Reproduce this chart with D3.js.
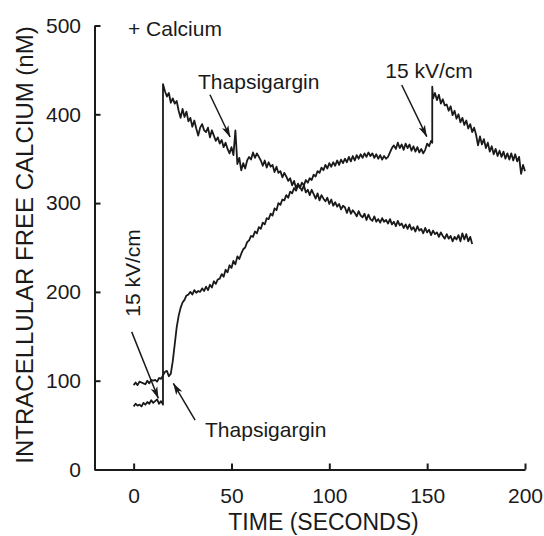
<!DOCTYPE html>
<html><head><meta charset="utf-8">
<script src="https://cdn.jsdelivr.net/npm/d3@7"></script>
<style>body{margin:0;background:#fff} svg{display:block}</style>
</head><body>
<svg id="c" width="544" height="536"></svg>
<script>
// Trace with 15 kV/cm pulse at ~15 s  [time (s), [Ca2+] (nM)]
const traceA = [[0,71],[1,74],[2,72],[3,73],[4,71],[5,75],[6,73],[7,76],[8,74],[9,78],[10,75],[11,77],[12,79],[13,74],[14,77],[15,73],[15,434],
[16,426],[17,420],[18,424],[19,413],[20,418],[21,412],[22,415],[23,404],[24,396],[25,406],[26,397],[27,403],[28,392],[29,396],[30,386],[31,393],[32,384],[33,376],[34,385],[35,389],[36,382],[37,380],[38,385],[39,374],[40,382],[41,376],[42,370],[43,374],[44,367],[45,371],[46,363],[47,368],[48,361],[49,356],[50,363],[51,354],[52,382],[53,344],[54,351],[55,337],[56,345],[57,339],[58,348],[59,352],[60,349],[61,357],[62,351],[63,356],[64,352],[65,348],[66,342],[67,348],[68,340],[69,346],[70,341],[71,343],[72,335],[73,341],[74,334],[75,336],[76,329],[77,334],[78,330],[79,325],[80,328],[81,320],[82,325],[83,317],[84,322],[85,318],[86,314],[87,320],[88,312],[89,315],[90,309],[91,315],[92,310],[93,305],[94,311],[95,303],[96,309],[97,305],[98,302],[99,306],[100,299],[101,304],[102,297],[103,301],[104,296],[105,299],[106,293],[107,297],[108,295],[109,289],[110,295],[111,288],[112,292],[113,289],[114,285],[115,291],[116,286],[117,284],[118,288],[119,281],[120,287],[121,282],[122,280],[123,285],[124,279],[125,282],[126,278],[127,283],[128,279],[129,281],[130,277],[131,282],[132,276],[133,279],[134,274],[135,280],[136,275],[137,277],[138,272],[139,276],[140,271],[141,276],[142,270],[143,273],[144,268],[145,274],[146,269],[147,271],[148,266],[149,272],[150,267],[151,270],[152,264],[153,269],[154,265],[155,267],[156,262],[157,267],[158,263],[159,260],[160,265],[161,260],[162,263],[163,257],[164,262],[165,259],[166,264],[167,257],[168,266],[169,259],[170,265],[171,257],[172,262],[173,254]];

// Trace with Thapsigargin at ~18 s and 15 kV/cm pulse at ~153 s
const traceB = [[0,95],[1,98],[2,95],[3,99],[4,98],[5,97],[6,96],[7,100],[8,97],[9,101],[10,100],[11,101],[12,99],[13,103],[14,102],[15,106],[16,110],[17,111],[18,105],[19,108],[20,122],[21,141],[22,160],[23,173],[24,182],[25,188],[26,191],[27,196],[28,197],[29,200],[30,197],[31,202],[32,199],[33,201],[34,200],[35,204],[36,201],[37,206],[38,202],[39,208],[40,205],[41,212],[42,209],[43,214],[44,215],[45,220],[46,217],[47,225],[48,222],[49,230],[50,227],[51,235],[52,231],[53,240],[54,237],[55,243],[56,248],[57,250],[58,256],[59,258],[60,263],[61,262],[62,268],[63,266],[64,273],[65,271],[66,278],[67,276],[68,283],[69,282],[70,288],[71,286],[72,294],[73,292],[74,300],[75,298],[76,304],[77,303],[78,309],[79,306],[80,313],[81,311],[82,317],[83,314],[84,320],[85,317],[86,323],[87,320],[88,326],[89,323],[90,328],[91,326],[92,332],[93,330],[94,336],[95,334],[96,340],[97,337],[98,343],[99,339],[100,345],[101,341],[102,346],[103,342],[104,348],[105,343],[106,349],[107,345],[108,350],[109,346],[110,352],[111,347],[112,353],[113,348],[114,354],[115,350],[116,355],[117,351],[118,356],[119,352],[120,357],[121,353],[122,356],[123,351],[124,355],[125,350],[126,354],[127,349],[128,353],[129,350],[130,352],[131,357],[132,362],[133,365],[134,361],[135,368],[136,362],[137,366],[138,360],[139,367],[140,362],[141,366],[142,359],[143,364],[144,358],[145,363],[146,357],[147,361],[148,356],[149,360],[150,367],[151,364],[152,370],[152.6,368],[152.6,431],
[153,418],[154,424],[155,416],[156,422],[157,412],[158,417],[159,410],[160,411],[161,404],[162,409],[163,399],[164,404],[165,395],[166,400],[167,391],[168,396],[169,388],[170,393],[171,384],[172,389],[173,380],[174,385],[175,377],[176,365],[177,375],[178,366],[179,372],[180,362],[181,368],[182,358],[183,364],[184,355],[185,361],[186,353],[187,359],[188,352],[189,358],[190,350],[191,356],[192,349],[193,356],[194,348],[195,355],[196,347],[197,352],[198,333],[199,343],[200,336]];

const xTicks = [0, 50, 100, 150, 200];
const yTicks = [0, 100, 200, 300, 400, 500];
const xTitle = "TIME (SECONDS)";
const yTitle = "INTRACELLULAR FREE CALCIUM (nM)";

// annotation texts, anchored in data units [text, time, nM, rotated]
const noteTexts = [
  ["+ Calcium", -2.9, 488, false],
  ["Thapsigargin", 32.9, 428.5, false],
  ["15 kV/cm", 128.6, 441, false],
  ["15 kV/cm", 3.3, 172, true],
  ["Thapsigargin", 36.5, 37, false]
];
// annotation arrows [fromTime, fromNM, toTime, toNM]
const noteArrows = [
  [39.0, 422, 49.3, 374.4],
  [137.0, 433, 149.8, 374.8],
  [-1.0, 155, 12.6, 80.2],
  [31.4, 55.7, 20.3, 97]
];

const ink = "#1a1a1a";
const font = "'Liberation Sans', Arial, Helvetica, sans-serif";
const svg = d3.select("#c");

const x = d3.scaleLinear().domain([-20, 200]).range([94.5, 525]);
const y = d3.scaleLinear().domain([0, 500]).range([469.5, 25.5]);

const defs = svg.append("defs");
defs.append("marker").attr("id", "ah")
  .attr("viewBox", "0 0 12 8").attr("refX", 11.5).attr("refY", 4)
  .attr("markerWidth", 12).attr("markerHeight", 8)
  .attr("markerUnits", "userSpaceOnUse").attr("orient", "auto")
  .append("path").attr("d", "M0,0.5 L12,4 L0,7.5 L3,4 Z").attr("fill", ink);

// axes
const gx = svg.append("g").attr("transform", `translate(0,${y(0)})`)
  .call(d3.axisBottom(x).tickValues(xTicks).tickSizeInner(-6).tickSizeOuter(0).tickPadding(19));
const gy = svg.append("g").attr("transform", `translate(${x(-20)},0)`)
  .call(d3.axisLeft(y).tickValues(yTicks).tickSizeInner(-6).tickSizeOuter(0).tickPadding(13.5));
[gx, gy].forEach(g => {
  g.attr("color", ink);
  g.select(".domain").attr("stroke-width", 2);
  g.selectAll(".tick line").attr("stroke-width", 2);
  g.selectAll(".tick text").attr("font-family", font).attr("font-size", 21).attr("fill", ink);
});

// titles
svg.append("text").attr("x", 323.5).attr("y", 530).attr("text-anchor", "middle")
  .attr("font-family", font).attr("font-size", 23).attr("fill", ink).text(xTitle);
svg.append("text").attr("transform", "translate(33,245) rotate(-90)").attr("text-anchor", "middle")
  .attr("font-family", font).attr("font-size", 24).attr("fill", ink).text(yTitle);

// traces
const line = d3.line().x(d => x(d[0])).y(d => y(d[1]));
[traceA, traceB].forEach(tr => {
  svg.append("path").datum(tr).attr("d", line)
    .attr("fill", "none").attr("stroke", ink).attr("stroke-width", 1.8)
    .attr("stroke-linejoin", "round");
});

// annotations
noteTexts.forEach(([t, tx, ty, rot]) => {
  const el = svg.append("text").attr("font-family", font).attr("font-size", 21).attr("fill", ink).text(t);
  if (rot) el.attr("transform", `translate(${x(tx)},${y(ty)}) rotate(-90)`);
  else el.attr("x", x(tx)).attr("y", y(ty));
});
noteArrows.forEach(([t0, v0, t1, v1]) => {
  svg.append("line").attr("x1", x(t0)).attr("y1", y(v0)).attr("x2", x(t1)).attr("y2", y(v1))
    .attr("stroke", ink).attr("stroke-width", 1.5).attr("marker-end", "url(#ah)");
});
</script>
</body></html>
